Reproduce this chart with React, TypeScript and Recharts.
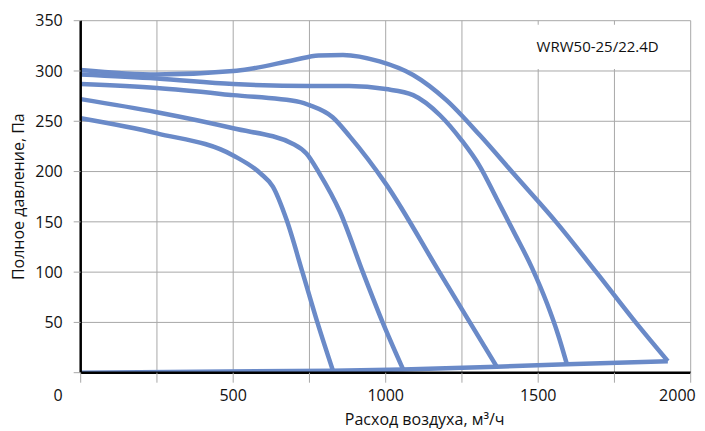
import React from "react";
import {
  LineChart, Line, XAxis, YAxis, CartesianGrid, ReferenceArea, Label,
} from "recharts";

// расход (м³/ч) и полное давление (Па) для каждой кривой
const curve1Q = [0, 250, 500, 590, 630, 675, 727, 776, 827];
const curve1P = [253, 238, 216, 198, 185, 152, 100, 50, 2];

const curve2Q = [0, 250, 500, 700, 740, 783, 850, 925, 990, 1057];
const curve2P = [272, 259, 243, 227, 218, 198, 160, 100, 50, 3.3];

const curve3Q = [0, 250, 500, 720, 750, 826, 882, 1000, 1180, 1364];
const curve3P = [287, 283, 276, 269, 266, 254, 235, 188, 98, 6];

const curve4Q = [0, 250, 500, 750, 880, 1000, 1090, 1178, 1249, 1309, 1364, 1420, 1480, 1530, 1565, 1594];
const curve4P = [296.5, 292.5, 287, 285, 285, 282, 276, 256, 231, 205, 173, 140, 104, 68, 38, 8.5];

const curve5Q = [0, 250, 500, 553, 700, 780, 860, 980, 1090, 1199, 1309, 1419, 1561, 1693, 1825, 1925];
const curve5P = [301, 296.5, 300, 302, 311, 315.5, 316, 309.5, 296, 271, 236, 198, 149, 99, 48, 11.5];

// нижняя линия (концы кривых)
const baseQ = [0, 827, 1057, 1364, 1594, 1925];
const baseP = [0, 2, 3.3, 6, 8.5, 11.5];

const xTicks = [0, 250, 500, 750, 1000, 1250, 1500, 1750, 2000];
const yTicks = [0, 50, 100, 150, 200, 250, 300, 350];

const MODEL = "WRW50-25/22.4D";
const X_TITLE = "Расход воздуха, м³/ч";
const Y_TITLE = "Полное давление, Па";

const zip = (q: number[], p: number[]) => q.map((x, i) => ({ x, y: p[i] }));

const curves = [
  zip(curve1Q, curve1P),
  zip(curve2Q, curve2P),
  zip(curve3Q, curve3P),
  zip(curve4Q, curve4P),
  zip(curve5Q, curve5P),
];
const base = zip(baseQ, baseP);

const BLUE = "#6A8AC8";
const GRID = "#A8A8A8";
const FONT = "'Open Sans', sans-serif";

function XTick({ x, y, payload }: any) {
  const v = payload.value;
  if (v % 500 !== 0) return <g />;
  let tx = x;
  let anchor = "middle";
  if (v === 0) { tx = x - 18; anchor = "end"; }
  if (v === 2000) { tx = x + 5; anchor = "end"; }
  return (
    <text x={tx} y={y} dy="0.71em" textAnchor={anchor} fontSize={16} fontFamily={FONT} fill="#111">{v}</text>
  );
}

export default function App() {
  return (
    <LineChart
      width={697}
      height={423}
      margin={{ top: 12.7, right: 14.3, bottom: 0, left: 0 }}
      style={{ fontFamily: FONT }}
    >
      <CartesianGrid stroke={GRID} strokeWidth={1} />
      <XAxis
        type="number"
        dataKey="x"
        domain={[0, 2000]}
        ticks={xTicks}
        interval={0}
        height={58.3}
        axisLine={{ stroke: "#000", strokeWidth: 2.5 }}
        tickLine={{ stroke: GRID, strokeWidth: 1 }}
        tickSize={10}
        tickMargin={7}
        tick={<XTick />}
        allowDataOverflow
      >
        <Label value={X_TITLE} position="insideBottom" offset={6} dx={39}
          style={{ fontSize: 16, fontFamily: FONT, fill: "#111" }} />
      </XAxis>
      <YAxis
        type="number"
        domain={[0, 350]}
        ticks={yTicks}
        interval={0}
        width={72.7}
        axisLine={{ stroke: "#000", strokeWidth: 2.5 }}
        tickLine={{ stroke: GRID, strokeWidth: 1 }}
        tickSize={7}
        tickMargin={11}
        tickFormatter={(v: number) => (v === 0 ? "" : String(v))}
        tick={{ fontSize: 16, fontFamily: FONT, fill: "#111" }}
        allowDataOverflow
      >
        <Label value={Y_TITLE} angle={-90} position="insideLeft" offset={10}
          style={{ fontSize: 16, fontFamily: FONT, fill: "#111", textAnchor: "middle" }} />
      </YAxis>
      <ReferenceArea
        x1={1400}
        x2={1990}
        y1={302}
        y2={346}
        fill="#fff"
        fillOpacity={1}
        stroke="none"
        label={{ value: MODEL, position: "center", fontSize: 15, fontFamily: FONT, fill: "#111" }}
      />
      {curves.map((d, i) => (
        <Line
          key={i}
          data={d}
          dataKey="y"
          type="monotone"
          stroke={BLUE}
          strokeWidth={4.5}
          strokeLinejoin="round"
          dot={false}
          activeDot={false}
          isAnimationActive={false}
        />
      ))}
      <Line
        data={base}
        dataKey="y"
        type="linear"
        stroke={BLUE}
        strokeWidth={4.5}
        strokeLinejoin="round"
        dot={false}
        activeDot={false}
        isAnimationActive={false}
      />
    </LineChart>
  );
}
